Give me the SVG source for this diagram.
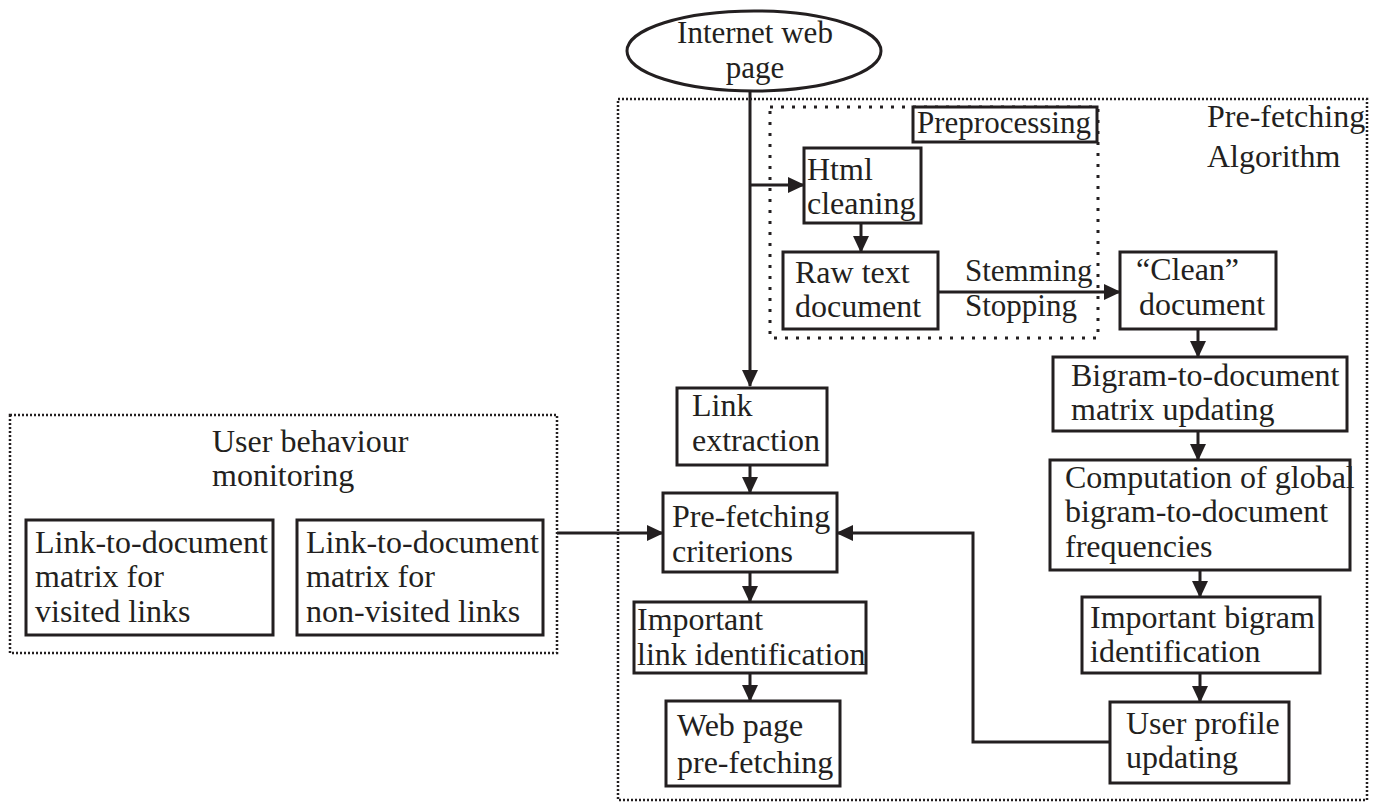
<svg xmlns="http://www.w3.org/2000/svg" width="1379" height="803" viewBox="0 0 1379 803">
<style>
text{font-family:"Liberation Serif","Times New Roman",serif;font-size:32px;fill:#231f20}
.box{fill:#fff;stroke:#231f20;stroke-width:3}
.outer{fill:none;stroke:#231f20;stroke-width:2.5;stroke-dasharray:2 2}
.inner{fill:none;stroke:#231f20;stroke-width:3;stroke-dasharray:3 8}
.c{fill:none;stroke:#231f20;stroke-width:3}
.mid{text-anchor:middle}
.sm{font-size:31px}
</style>
<defs>
<marker id="ah" markerUnits="userSpaceOnUse" markerWidth="18" markerHeight="16" refX="16" refY="8" orient="auto">
<path d="M0,0 L17,8 L0,16 Z" fill="#231f20"/>
</marker>
</defs>
<rect width="1379" height="803" fill="#fff"/>
<g id="prefetching-algorithm">
<rect class="outer" x="618" y="99" width="749" height="701"/>
<text x="1207" y="127">Pre-fetching</text>
<text x="1207" y="167">Algorithm</text>
</g>
<g id="preprocessing">
<rect class="inner" x="770" y="107" width="328" height="231"/>
<rect class="box" x="913" y="107" width="184" height="35"/>
<text class="sm" x="917" y="133">Preprocessing</text>
</g>
<g id="user-behaviour">
<rect class="outer" x="10" y="415" width="547" height="238"/>
<text x="212" y="452">User behaviour</text>
<text x="212" y="486">monitoring</text>
</g>
<g id="internet-web-page">
<ellipse cx="754" cy="51" rx="127" ry="40" fill="#fff" stroke="#231f20" stroke-width="3"/>
<text class="mid sm" x="755" y="43">Internet web</text>
<text class="mid sm" x="755" y="78">page</text>
</g>
<g id="html-cleaning">
<rect class="box" x="804" y="148" width="117" height="75"/>
<text x="807" y="180">Html</text>
<text x="807" y="214">cleaning</text>
</g>
<g id="raw-text">
<rect class="box" x="783" y="252" width="155" height="77"/>
<text x="795" y="283">Raw text</text>
<text x="795" y="317">document</text>
</g>
<g id="clean-document">
<rect class="box" x="1120" y="252" width="156" height="77"/>
<text x="1136" y="280">“Clean”</text>
<text x="1139" y="315">document</text>
</g>
<g id="bigram-matrix">
<rect class="box" x="1053" y="357" width="294" height="74"/>
<text x="1071" y="386">Bigram-to-document</text>
<text x="1071" y="420">matrix updating</text>
</g>
<g id="computation">
<rect class="box" x="1050" y="460" width="300" height="110"/>
<text x="1065" y="488">Computation of global</text>
<text x="1065" y="522">bigram-to-document</text>
<text x="1065" y="557">frequencies</text>
</g>
<g id="important-bigram">
<rect class="box" x="1082" y="597" width="238" height="76"/>
<text x="1090" y="628">Important bigram</text>
<text x="1090" y="662">identification</text>
</g>
<g id="user-profile">
<rect class="box" x="1110" y="702" width="179" height="81"/>
<text x="1126" y="734">User profile</text>
<text x="1126" y="768">updating</text>
</g>
<g id="link-extraction">
<rect class="box" x="677" y="388" width="150" height="77"/>
<text x="692" y="416">Link</text>
<text x="692" y="451">extraction</text>
</g>
<g id="prefetching-criterions">
<rect class="box" x="663" y="493" width="174" height="79"/>
<text x="672" y="527">Pre-fetching</text>
<text x="672" y="562">criterions</text>
</g>
<g id="important-link">
<rect class="box" x="634" y="602" width="232" height="71"/>
<text x="637" y="630">Important</text>
<text x="637" y="665">link identification</text>
</g>
<g id="web-page-prefetching">
<rect class="box" x="666" y="701" width="174" height="85"/>
<text x="677" y="736">Web page</text>
<text x="677" y="773">pre-fetching</text>
</g>
<g id="visited-links">
<rect class="box" x="26" y="520" width="247" height="115"/>
<text x="35" y="553">Link-to-document</text>
<text x="35" y="587">matrix for</text>
<text x="35" y="622">visited links</text>
</g>
<g id="non-visited-links">
<rect class="box" x="297" y="520" width="246" height="115"/>
<text x="306" y="553">Link-to-document</text>
<text x="306" y="587">matrix for</text>
<text x="306" y="622">non-visited links</text>
</g>
<g id="connectors">
<path class="c" d="M750,91 V386" marker-end="url(#ah)"/>
<path class="c" d="M750,185 H804" marker-end="url(#ah)"/>
<path class="c" d="M861,223 V252" marker-end="url(#ah)"/>
<path class="c" d="M938,292 H1120" marker-end="url(#ah)"/>
<path class="c" d="M1198,329 V357" marker-end="url(#ah)"/>
<path class="c" d="M1198,431 V460" marker-end="url(#ah)"/>
<path class="c" d="M1200,570 V597" marker-end="url(#ah)"/>
<path class="c" d="M1200,673 V702" marker-end="url(#ah)"/>
<path class="c" d="M750,465 V493" marker-end="url(#ah)"/>
<path class="c" d="M557,533 H663" marker-end="url(#ah)"/>
<path class="c" d="M1110,742 H973 V533 H837" marker-end="url(#ah)"/>
<path class="c" d="M750,572 V602" marker-end="url(#ah)"/>
<path class="c" d="M750,673 V701" marker-end="url(#ah)"/>
<text class="sm" x="965" y="281">Stemming</text>
<text class="sm" x="965" y="316">Stopping</text>
</g>
</svg>
